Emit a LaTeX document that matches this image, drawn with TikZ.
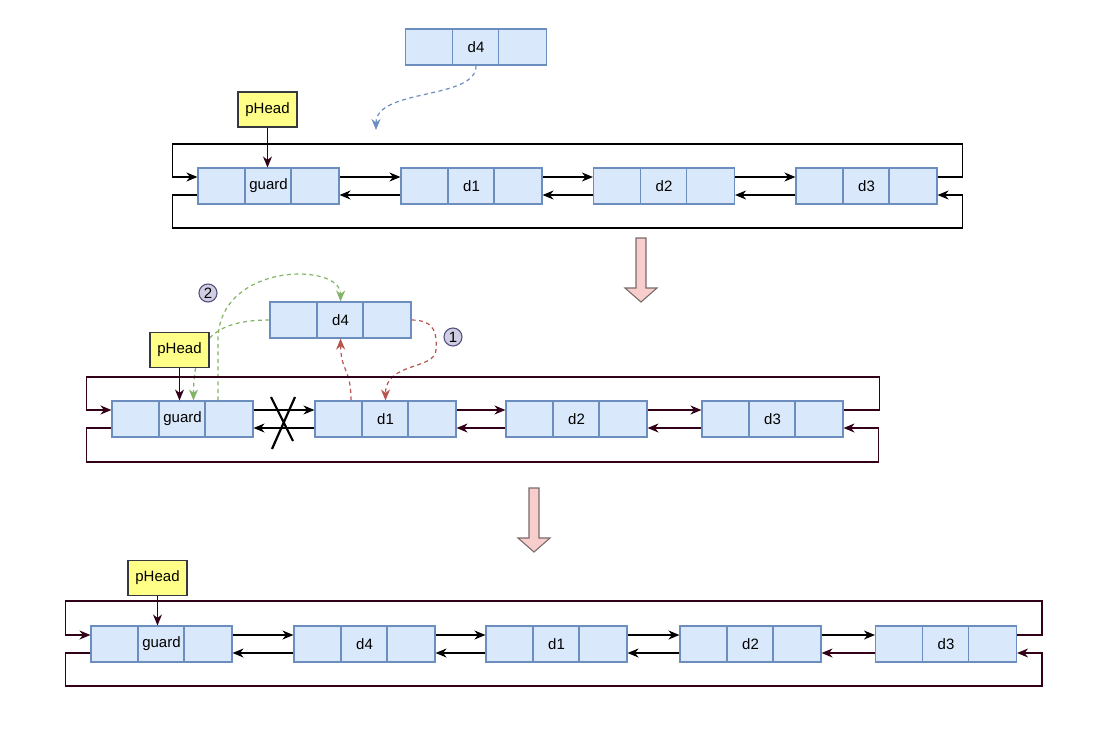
\documentclass[tikz,border=0pt]{standalone}
\usepackage{fontspec}
\setmainfont{Liberation Sans}
\usetikzlibrary{arrows.meta}
\definecolor{BoxFill}{HTML}{DAE8FC}
\definecolor{BoxLine}{HTML}{6C8EBF}
\definecolor{HeadFill}{HTML}{FFFF88}
\definecolor{HeadLine}{HTML}{36393D}
\definecolor{Maroon}{HTML}{33001A}
\definecolor{RedLine}{HTML}{B85450}
\definecolor{GreenLine}{HTML}{82B366}
\definecolor{PinkFill}{HTML}{F8CECC}
\definecolor{PinkLine}{HTML}{7A6A6A}
\definecolor{MarkFill}{HTML}{D0CEE2}
\definecolor{MarkLine}{HTML}{56517E}
\tikzset{
  cell/.style={draw=BoxLine,fill=BoxFill,line width=1.1pt,minimum width=141pt,minimum height=36pt,inner sep=0pt,font=\fontsize{15}{18}\selectfont,
    path picture={\draw[BoxLine,line width=1.1pt] ([xshift=-23.5pt]path picture bounding box.north) -- ([xshift=-23.5pt]path picture bounding box.south) ([xshift=22.5pt]path picture bounding box.north) -- ([xshift=22.5pt]path picture bounding box.south);}},
  head/.style={draw=HeadLine,fill=HeadFill,line width=1.1pt,minimum width=59pt,minimum height=35pt,inner sep=0pt,font=\fontsize{15}{18}\selectfont},
  stepmark/.style={circle,draw=MarkLine,fill=MarkFill,line width=1.1pt,minimum size=18pt,inner sep=0pt,font=\fontsize{15}{18}\selectfont},
  link/.style={-{Stealth[length=11pt,width=9pt,inset=3.5pt]},line width=1.2pt,draw=black},
  maroonlink/.style={link,draw=Maroon},
  movelink/.style={-{Stealth[length=11pt,width=9pt,inset=3.5pt]},line width=1.2pt,dash pattern=on 4pt off 3.5pt},
  bigarrow/.style={draw=PinkLine,fill=PinkFill,line width=1.1pt}
}
\begin{document}
\begin{tikzpicture}[x=1pt,y=-1pt]
\useasboundingbox (0,0) rectangle (1105,736);

\node[cell] (d4t) at (476,47) {d4};
\node[cell] (gt) at (268.5,186) {guard};
\node[cell] (d1t) at (471.5,186) {d1};
\node[cell] (d2t) at (664,186) {d2};
\node[cell] (d3t) at (866.5,186) {d3};
\node[head] (pht) at (267.5,109.5) {pHead};
\coordinate (dropt) at (376,130);

\draw[movelink,draw=BoxLine] (d4t.south) .. controls (477,100) and (376,88) .. (dropt);
\draw[maroonlink] (pht.south) -- (pht.south |- gt.north);
\draw[link] ([yshift=9pt]gt.east) -- ([yshift=9pt]d1t.west);\draw[link] ([yshift=-9pt]d1t.west) -- ([yshift=-9pt]gt.east);
\draw[link] ([yshift=9pt]d1t.east) -- ([yshift=9pt]d2t.west);\draw[link] ([yshift=-9pt]d2t.west) -- ([yshift=-9pt]d1t.east);
\draw[link] ([yshift=9pt]d2t.east) -- ([yshift=9pt]d3t.west);\draw[link] ([yshift=-9pt]d3t.west) -- ([yshift=-9pt]d2t.east);
\draw[link] ([yshift=9pt]d3t.east) -- ++(25,0) -- ++(0,-33) -| ([xshift=-25pt,yshift=9pt]gt.west) -- ([yshift=9pt]gt.west);
\draw[link] ([yshift=-9pt]gt.west) -- ++(-25,0) -- ++(0,33) -| ([xshift=25pt,yshift=-9pt]d3t.east) -- ([yshift=-9pt]d3t.east);

\draw[bigarrow,shift={(641,238)}] (-5,0) -- (5,0) -- (5,50) -- (16,50) -- (0,64) -- (-16,50) -- (-5,50) -- cycle;

\node[cell] (d4m) at (340.5,320) {d4};
\node[cell] (gm) at (182.5,419) {guard};
\node[cell] (d1m) at (385.5,419) {d1};
\node[cell] (d2m) at (576.5,419) {d2};
\node[cell] (d3m) at (772.5,419) {d3};
\node[stepmark] (s2) at (208,293) {2};
\node[stepmark] (s1) at (453,337) {1};

\draw[movelink,draw=GreenLine] ([xshift=35.5pt]gm.north) -- ++(0,-60) .. controls (218,262) and (341,262) .. (d4m.north);
\draw[movelink,draw=GreenLine] (d4m.west) .. controls (215,320) and (193.5,340) .. ([xshift=11pt]gm.north);
\draw[movelink,draw=RedLine] ([xshift=-34.5pt]d1m.north) .. controls (351,368) and (341,372) .. (d4m.south);
\draw[movelink,draw=RedLine] (d4m.east) .. controls (436,320) and (437,335) .. (436,350) .. controls (435,370) and (385.5,362) .. (d1m.north);

\node[head] (phm) at (179.5,350) {pHead};
\draw[maroonlink] (phm.south) -- (phm.south |- gm.north);
\draw[link] ([yshift=9pt]gm.east) -- ([yshift=9pt]d1m.west);\draw[link] ([yshift=-9pt]d1m.west) -- ([yshift=-9pt]gm.east);
\draw[maroonlink] ([yshift=9pt]d1m.east) -- ([yshift=9pt]d2m.west);\draw[maroonlink] ([yshift=-9pt]d2m.west) -- ([yshift=-9pt]d1m.east);
\draw[maroonlink] ([yshift=9pt]d2m.east) -- ([yshift=9pt]d3m.west);\draw[maroonlink] ([yshift=-9pt]d3m.west) -- ([yshift=-9pt]d2m.east);
\draw[maroonlink] ([yshift=9pt]d3m.east) -- ++(36,0) -- ++(0,-33) -| ([xshift=-25pt,yshift=9pt]gm.west) -- ([yshift=9pt]gm.west);
\draw[maroonlink] ([yshift=-9pt]gm.west) -- ++(-25,0) -- ++(0,34) -| ([xshift=35pt,yshift=-9pt]d3m.east) -- ([yshift=-9pt]d3m.east);
\draw[line width=2.2pt] (271,397) -- (293,441) (295,397) -- (272,449);

\draw[bigarrow,shift={(534,488)}] (-5,0) -- (5,0) -- (5,50) -- (16,50) -- (0,64) -- (-16,50) -- (-5,50) -- cycle;

\node[cell] (gb) at (161.5,644) {guard};
\node[cell] (d4b) at (364.5,644) {d4};
\node[cell] (d1b) at (556.5,644) {d1};
\node[cell] (d2b) at (750.5,644) {d2};
\node[cell] (d3b) at (946,644) {d3};
\node[head] (phb) at (157.5,578) {pHead};

\draw[maroonlink] (phb.south) -- (phb.south |- gb.north);
\draw[link] ([yshift=9pt]gb.east) -- ([yshift=9pt]d4b.west);\draw[link] ([yshift=-9pt]d4b.west) -- ([yshift=-9pt]gb.east);
\draw[link] ([yshift=9pt]d4b.east) -- ([yshift=9pt]d1b.west);\draw[link] ([yshift=-9pt]d1b.west) -- ([yshift=-9pt]d4b.east);
\draw[link] ([yshift=9pt]d1b.east) -- ([yshift=9pt]d2b.west);\draw[link] ([yshift=-9pt]d2b.west) -- ([yshift=-9pt]d1b.east);
\draw[link] ([yshift=9pt]d2b.east) -- ([yshift=9pt]d3b.west);\draw[maroonlink] ([yshift=-9pt]d3b.west) -- ([yshift=-9pt]d2b.east);
\draw[maroonlink] ([yshift=9pt]d3b.east) -- ++(25,0) -- ++(0,-34) -| ([xshift=-25pt,yshift=9pt]gb.west) -- ([yshift=9pt]gb.west);
\draw[maroonlink] ([yshift=-9pt]gb.west) -- ++(-25,0) -- ++(0,33) -| ([xshift=25pt,yshift=-9pt]d3b.east) -- ([yshift=-9pt]d3b.east);
\end{tikzpicture}
\end{document}
